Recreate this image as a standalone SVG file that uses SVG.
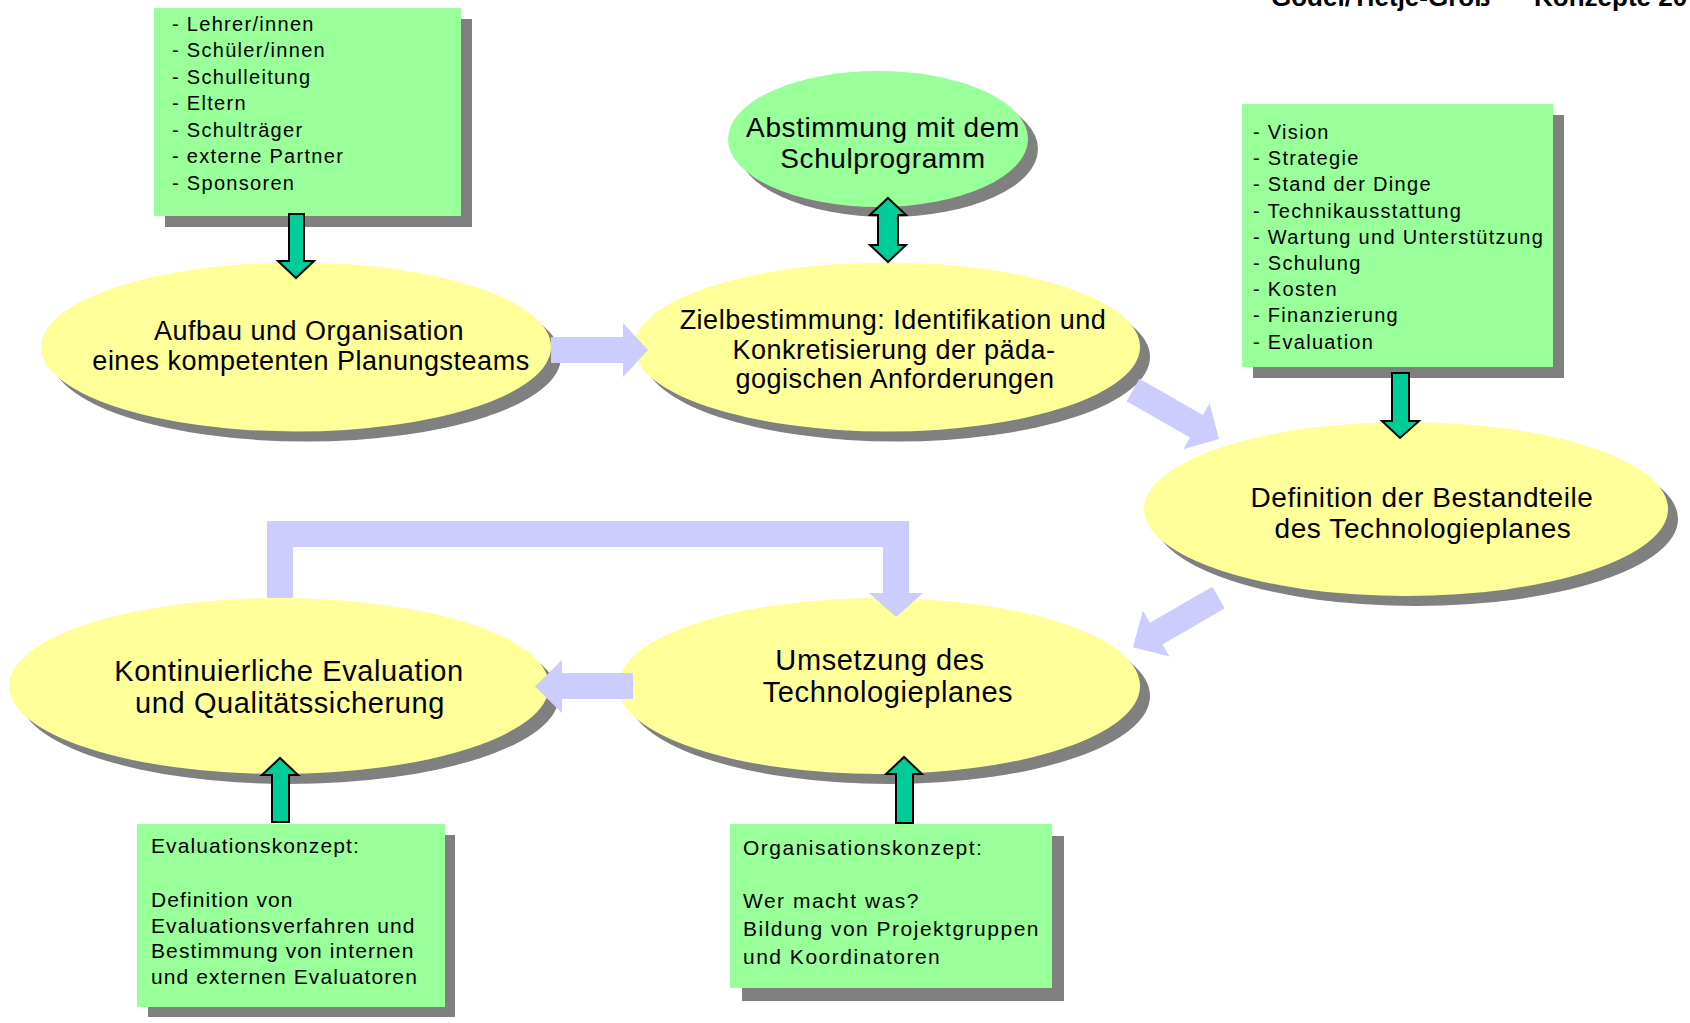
<svg xmlns="http://www.w3.org/2000/svg" width="1690" height="1023" viewBox="0 0 1690 1023">
<style>
text{font-family:"Liberation Sans",Arial,Helvetica,sans-serif;fill:#000}
.hdr{font-size:26px;font-weight:bold}
.el{font-size:27px;letter-spacing:0.5px;text-anchor:middle}
.el28{font-size:28px;letter-spacing:0.6px;text-anchor:middle}
.el29{font-size:29px;letter-spacing:0.6px;text-anchor:middle}
.lst{font-size:20px;letter-spacing:1.3px}
.cpt{font-size:21px;letter-spacing:1.1px}
.cpt2{font-size:21px;letter-spacing:1.5px}
.sh{fill:#808080}
.yel{fill:#FFFF99}
.grn{fill:#99FF99}
.lav{fill:#CCCCFF}
.teal{fill:#00CC99;stroke:#000;stroke-width:2;stroke-linejoin:miter}
</style>
<rect width="1690" height="1023" fill="#fff"/>
<g id="header">
<text class="hdr" x="1271" y="6">Godel/Tietje-Groß</text>
<text class="hdr" x="1534" y="6">Konzepte 20</text>
</g>
<g id="node-beteiligte">
<rect class="sh" x="165" y="19" width="307" height="208"/>
<rect class="grn" x="154" y="8" width="307" height="208"/>
<text class="lst" x="172" y="30.5">- Lehrer/innen</text>
<text class="lst" x="172" y="57">- Schüler/innen</text>
<text class="lst" x="172" y="83.5">- Schulleitung</text>
<text class="lst" x="172" y="110">- Eltern</text>
<text class="lst" x="172" y="136.5">- Schulträger</text>
<text class="lst" x="172" y="163">- externe Partner</text>
<text class="lst" x="172" y="189.5">- Sponsoren</text>
</g>
<g id="node-abstimmung">
<ellipse class="sh" cx="888" cy="149" rx="150" ry="68"/>
<ellipse class="grn" cx="878" cy="139" rx="150" ry="68"/>
<text class="el28" x="883" y="137">Abstimmung mit dem</text>
<text class="el28" x="883" y="168">Schulprogramm</text>
</g>
<g id="node-bestandteile-liste">
<rect class="sh" x="1253" y="115" width="311" height="263"/>
<rect class="grn" x="1242" y="104" width="311" height="263"/>
<text class="lst" x="1253" y="139">- Vision</text>
<text class="lst" x="1253" y="165.2">- Strategie</text>
<text class="lst" x="1253" y="191.4">- Stand der Dinge</text>
<text class="lst" x="1253" y="217.6">- Technikausstattung</text>
<text class="lst" x="1253" y="243.8">- Wartung und Unterstützung</text>
<text class="lst" x="1253" y="270">- Schulung</text>
<text class="lst" x="1253" y="296.2">- Kosten</text>
<text class="lst" x="1253" y="322.4">- Finanzierung</text>
<text class="lst" x="1253" y="348.6">- Evaluation</text>
</g>
<g id="node-aufbau">
<ellipse class="sh" cx="306" cy="357" rx="255" ry="84.5"/>
<ellipse class="yel" cx="296" cy="347" rx="255" ry="84.5"/>
<text class="el" x="309" y="339.5">Aufbau und Organisation</text>
<text class="el" x="311" y="369.5">eines kompetenten Planungsteams</text>
</g>
<g id="node-zielbestimmung">
<ellipse class="sh" cx="897" cy="357" rx="253" ry="84.5"/>
<ellipse class="yel" cx="887" cy="347" rx="253" ry="84.5"/>
<text class="el" x="893" y="328.5">Zielbestimmung: Identifikation und</text>
<text class="el" x="894" y="358.5">Konkretisierung der päda-</text>
<text class="el" x="895" y="388">gogischen Anforderungen</text>
</g>
<g id="node-definition">
<ellipse class="sh" cx="1416" cy="519" rx="262" ry="87"/>
<ellipse class="yel" cx="1406" cy="509" rx="262" ry="87"/>
<text class="el28" x="1422" y="506.5">Definition der Bestandteile</text>
<text class="el28" x="1423" y="537.5">des Technologieplanes</text>
</g>
<g id="node-umsetzung">
<ellipse class="sh" cx="889" cy="696" rx="261" ry="88"/>
<ellipse class="yel" cx="879" cy="686" rx="261" ry="88"/>
<text class="el29" x="880" y="670">Umsetzung des</text>
<text class="el29" x="888" y="702">Technologieplanes</text>
</g>
<g id="node-evaluation">
<ellipse class="sh" cx="289" cy="696" rx="270" ry="88"/>
<ellipse class="yel" cx="279" cy="686" rx="270" ry="88"/>
<text class="el29" x="289" y="680.5">Kontinuierliche Evaluation</text>
<text class="el29" x="290" y="712.5">und Qualitätssicherung</text>
</g>
<g id="node-evaluationskonzept">
<rect class="sh" x="148" y="835" width="307" height="182"/>
<rect class="grn" x="137" y="824" width="308" height="183"/>
<text class="cpt" x="151" y="853">Evaluationskonzept:</text>
<text class="cpt" x="151" y="907">Definition von</text>
<text class="cpt" x="151" y="932.5">Evaluationsverfahren und</text>
<text class="cpt" x="151" y="958">Bestimmung von internen</text>
<text class="cpt" x="151" y="984">und externen Evaluatoren</text>
</g>
<g id="node-organisationskonzept">
<rect class="sh" x="742" y="836" width="322" height="165"/>
<rect class="grn" x="730" y="824" width="322" height="164"/>
<text class="cpt2" x="743" y="855">Organisationskonzept:</text>
<text class="cpt2" x="743" y="908">Wer macht was?</text>
<text class="cpt2" x="743" y="936">Bildung von Projektgruppen</text>
<text class="cpt2" x="743" y="964">und Koordinatoren</text>
</g>
<g id="connectors">
<polygon class="lav" points="551,337 623,337 623,323 648,350 623,377 623,363 551,363"/>
<polygon class="lav" transform="translate(1133,390) rotate(29.7)" points="0,-13 73,-13 73,-26.5 99,0 73,26.5 73,13 0,13"/>
<polygon class="lav" transform="translate(1218.5,597.5) rotate(149.9)" points="0,-12.5 72,-12.5 72,-26.5 99,0 72,26.5 72,12.5 0,12.5"/>
<polygon class="lav" points="633,673 562,673 562,660 535,686.5 562,713 562,699 633,699"/>
<polygon class="lav" points="267,598 267,521 909,521 909,593 923,593 896,617 869,593 883,593 883,547 293,547 293,598"/>
<polygon class="teal" points="289,214 304,214 304,261 314,261 296,278 278,261 289,261"/>
<polygon class="teal" points="888,198 906,215 898,215 898,245 906,245 888,262 870,245 878,245 878,215 870,215"/>
<polygon class="teal" points="1392,373 1409,373 1409,421 1419,421 1400,438 1382,421 1392,421"/>
<polygon class="teal" points="272,822 289,822 289,775 298,775 280,758 262,775 272,775"/>
<polygon class="teal" points="896,823 913,823 913,774 922,774 904,757 886,774 896,774"/>
</g>
</svg>
